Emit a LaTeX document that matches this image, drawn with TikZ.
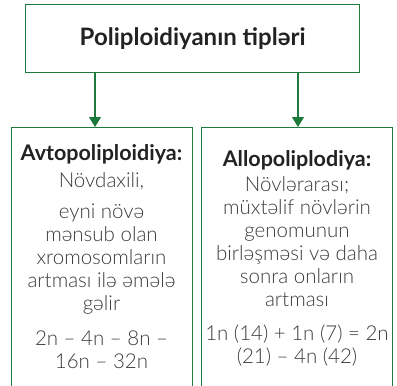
\documentclass[tikz,border=0pt]{standalone}
\usepackage{fontspec}
\setmainfont{Lato}
\newfontfamily\lightfont{Lato Light}
\usetikzlibrary{arrows.meta}
\definecolor{boxgreen}{HTML}{1E7A3C}
\definecolor{bodygray}{HTML}{3A3A3A}
\definecolor{headblack}{HTML}{222222}
\tikzset{
  box/.style={draw=boxgreen, line width=1.3pt, rectangle, inner sep=0pt},
  conn/.style={draw=boxgreen, line width=1.3pt, -{Triangle[length=10pt,width=12pt]}},
  titletext/.style={font=\fontsize{24}{28}\selectfont\bfseries, text=headblack},
  bodytext/.style={align=center, text=bodygray, inner sep=0pt, anchor=base,
    font=\fontsize{20.5}{23}\selectfont\lightfont},
}
\newcommand{\headfmt}{\normalfont\fontsize{21.5}{23}\selectfont\bfseries\color{headblack}}
\begin{document}
\begin{tikzpicture}[x=1pt,y=1pt]
\useasboundingbox (0,0) rectangle (397,-386);
\clip (0,0) rectangle (397,-386);
\node[box, anchor=north west, minimum width=334pt, minimum height=68pt] (top) at (25,-4) {};
\node[titletext] (title) at (top.center) {Poliploidiyanın tipləri};
\node[box, anchor=north west, minimum width=181pt, minimum height=290pt] (left) at (11,-127) {};
\node[box, anchor=north west, minimum width=191pt, minimum height=290pt] (right) at (201,-127) {};
\coordinate (lt) at (95,-72);
\coordinate (rt) at (298,-72);
\draw[conn] (lt) -- (lt |- left.north);
\draw[conn] (rt) -- (rt |- right.north);
\node[bodytext] (ltext) at (101.5,-368) {{\headfmt Avtopoliploidiya:}\\[4pt]
Növdaxili,\\[8pt]
eyni növə\\
mənsub olan\\
xromosomların\\
artması ilə əmələ\\
gəlir\\[12pt]
2n – 4n – 8n –\\
16n – 32n};
\node[bodytext] (rtext) at (297,-363) {{\headfmt Allopoliplodiya:}\\[2pt]
Növlərarası;\\
müxtəlif növlərin\\
genomunun\\
birləşməsi və daha\\
sonra onların\\
artması\\[11pt]
1n (14) + 1n (7) = 2n\\
(21) – 4n (42)};
\end{tikzpicture}
\end{document}
